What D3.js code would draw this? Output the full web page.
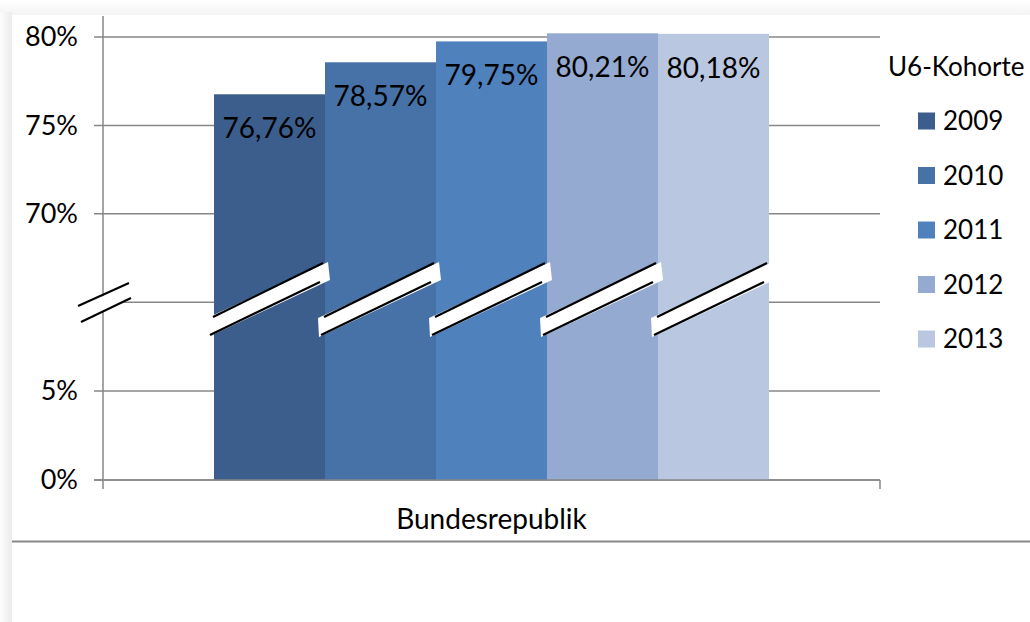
<!DOCTYPE html>
<html><head><meta charset="utf-8">
<script src="https://cdn.jsdelivr.net/npm/d3@7"></script>
<style>
html,body{margin:0;padding:0;background:#fff;}
svg{display:block;font-family:Lato,"Open Sans",sans-serif;}
</style></head>
<body>
<svg id="chart" width="1030" height="622"></svg>
<script>
const category = "Bundesrepublik";
const years = ["2009", "2010", "2011", "2012", "2013"];
const values = [76.76, 78.57, 79.75, 80.21, 80.18];
const colors = ["#3B5E8C", "#4672A8", "#4F81BD", "#95AAD1", "#B9C7E1"];
const tickValues = [0, 5, 70, 75, 80];
const tickLabels = ["0%", "5%", "70%", "75%", "80%"];
const breakTick = 10;
const legendTitle = "U6-Kohorte";

const svg = d3.select("#chart");
const defs = svg.append("defs");
const gl = defs.append("linearGradient").attr("id", "shL").attr("x1", 0).attr("x2", 1).attr("y1", 0).attr("y2", 0);
gl.append("stop").attr("offset", 0).attr("stop-color", "#fdfdfd");
gl.append("stop").attr("offset", 1).attr("stop-color", "#ebebeb");
const gt = defs.append("linearGradient").attr("id", "shT").attr("x1", 0).attr("x2", 0).attr("y1", 0).attr("y2", 1);
gt.append("stop").attr("offset", 0).attr("stop-color", "#ffffff");
gt.append("stop").attr("offset", 1).attr("stop-color", "#f4f4f4");
svg.append("rect").attr("width", 1030).attr("height", 622).attr("fill", "#fff");
svg.append("rect").attr("x", 0).attr("y", 0).attr("width", 1030).attr("height", 15).attr("fill", "url(#shT)");
svg.append("rect").attr("x", 0).attr("y", 12).attr("width", 12).attr("height", 610).attr("fill", "url(#shL)");
svg.append("rect").attr("x", 12).attr("y", 15).attr("width", 1018).attr("height", 607).attr("fill", "#fff");

const pLeft = 103, pRight = 880, pTop = 37, pBottom = 480;
const y = d3.scaleLinear().domain([0, 10, 65, 80]).range([pBottom, 302.2, 302.2, pTop]);
const x0 = d3.scaleBand().domain([category]).range([pLeft, pRight]).paddingInner(0).paddingOuter(0.2);
const x1 = d3.scaleBand().domain(years).range([0, x0.bandwidth()]);

const fs = 26;
const grid = svg.append("g");
tickValues.concat([breakTick]).forEach(v => {
  grid.append("line").attr("x1", pLeft - 9).attr("x2", pRight)
    .attr("y1", y(v)).attr("y2", y(v))
    .attr("stroke", "#878787").attr("stroke-width", 1.5);
});
const yAxis = d3.axisLeft(y).tickValues(tickValues)
  .tickFormat((d, i) => tickLabels[i]).tickSize(0).tickPadding(25);
const ga = svg.append("g").attr("transform", `translate(${pLeft},0)`).call(yAxis);
ga.select(".domain").remove();
ga.selectAll("text").attr("font-size", 27).attr("fill", "#000")
  .attr("font-family", "Lato, sans-serif");

const bars = svg.append("g");
years.forEach((yr, i) => {
  const bx = x0(category) + x1(yr);
  bars.append("rect").attr("x", bx).attr("y", y(values[i]))
    .attr("width", x1.bandwidth()).attr("height", pBottom - y(values[i]))
    .attr("fill", colors[i]);
});
years.forEach((yr, i) => {
  const bx = x0(category) + x1(yr) + x1.bandwidth() / 2;
  svg.append("text").attr("x", bx).attr("y", y(values[i]) + 44)
    .attr("text-anchor", "middle").attr("font-size", 28).attr("fill", "#000")
    .text(values[i].toFixed(2).replace(".", ",") + "%");
});
years.forEach((yr, i) => {
  const a = x0(category) + x1(yr), b = a + x1.bandwidth();
  svg.append("polygon")
    .attr("points", [[a - 7, 318], [b + 3, 262], [b + 5, 280], [a - 6, 337]].map(p => p.join(",")).join(" "))
    .attr("fill", "#fff");
  svg.append("line").attr("x1", a - 1).attr("y1", 317).attr("x2", b - 2).attr("y2", 263)
    .attr("stroke", "#000").attr("stroke-width", 2.2);
  svg.append("line").attr("x1", a - 4).attr("y1", 335).attr("x2", b - 5).attr("y2", 282)
    .attr("stroke", "#000").attr("stroke-width", 2.2);
});

svg.append("line").attr("x1", pLeft).attr("x2", pLeft).attr("y1", 16).attr("y2", pBottom + 9)
  .attr("stroke", "#878787").attr("stroke-width", 1.5);
svg.append("line").attr("x1", pLeft - 9).attr("x2", pRight).attr("y1", pBottom).attr("y2", pBottom)
  .attr("stroke", "#878787").attr("stroke-width", 1.5);
svg.append("line").attr("x1", pRight).attr("x2", pRight).attr("y1", pBottom).attr("y2", pBottom + 9)
  .attr("stroke", "#878787").attr("stroke-width", 1.5);
svg.append("polygon").attr("points", "79,307 130,284 131,299 81,322").attr("fill", "#fff");
svg.append("line").attr("x1", 78).attr("y1", 306).attr("x2", 129).attr("y2", 283)
  .attr("stroke", "#000").attr("stroke-width", 2);
svg.append("line").attr("x1", 81).attr("y1", 322).attr("x2", 131).attr("y2", 298)
  .attr("stroke", "#000").attr("stroke-width", 2);

svg.append("text").attr("x", x0(category) + x0.bandwidth() / 2).attr("y", 529)
  .attr("text-anchor", "middle").attr("font-size", 28).attr("fill", "#000").text(category);

svg.append("line").attr("x1", 12).attr("x2", 1030).attr("y1", 541.5).attr("y2", 541.5)
  .attr("stroke", "#888").attr("stroke-width", 2);

const lg = svg.append("g");
lg.append("text").attr("x", 888).attr("y", 76).attr("font-size", fs).attr("fill", "#000").text(legendTitle);
years.forEach((yr, i) => {
  const cy = 121 + i * 54.5;
  lg.append("rect").attr("x", 918).attr("y", cy - 8.5).attr("width", 17).attr("height", 17).attr("fill", colors[i]);
  lg.append("text").attr("x", 943).attr("y", cy + 9).attr("font-size", fs).attr("fill", "#000").text(yr);
});
</script>
</body></html>
